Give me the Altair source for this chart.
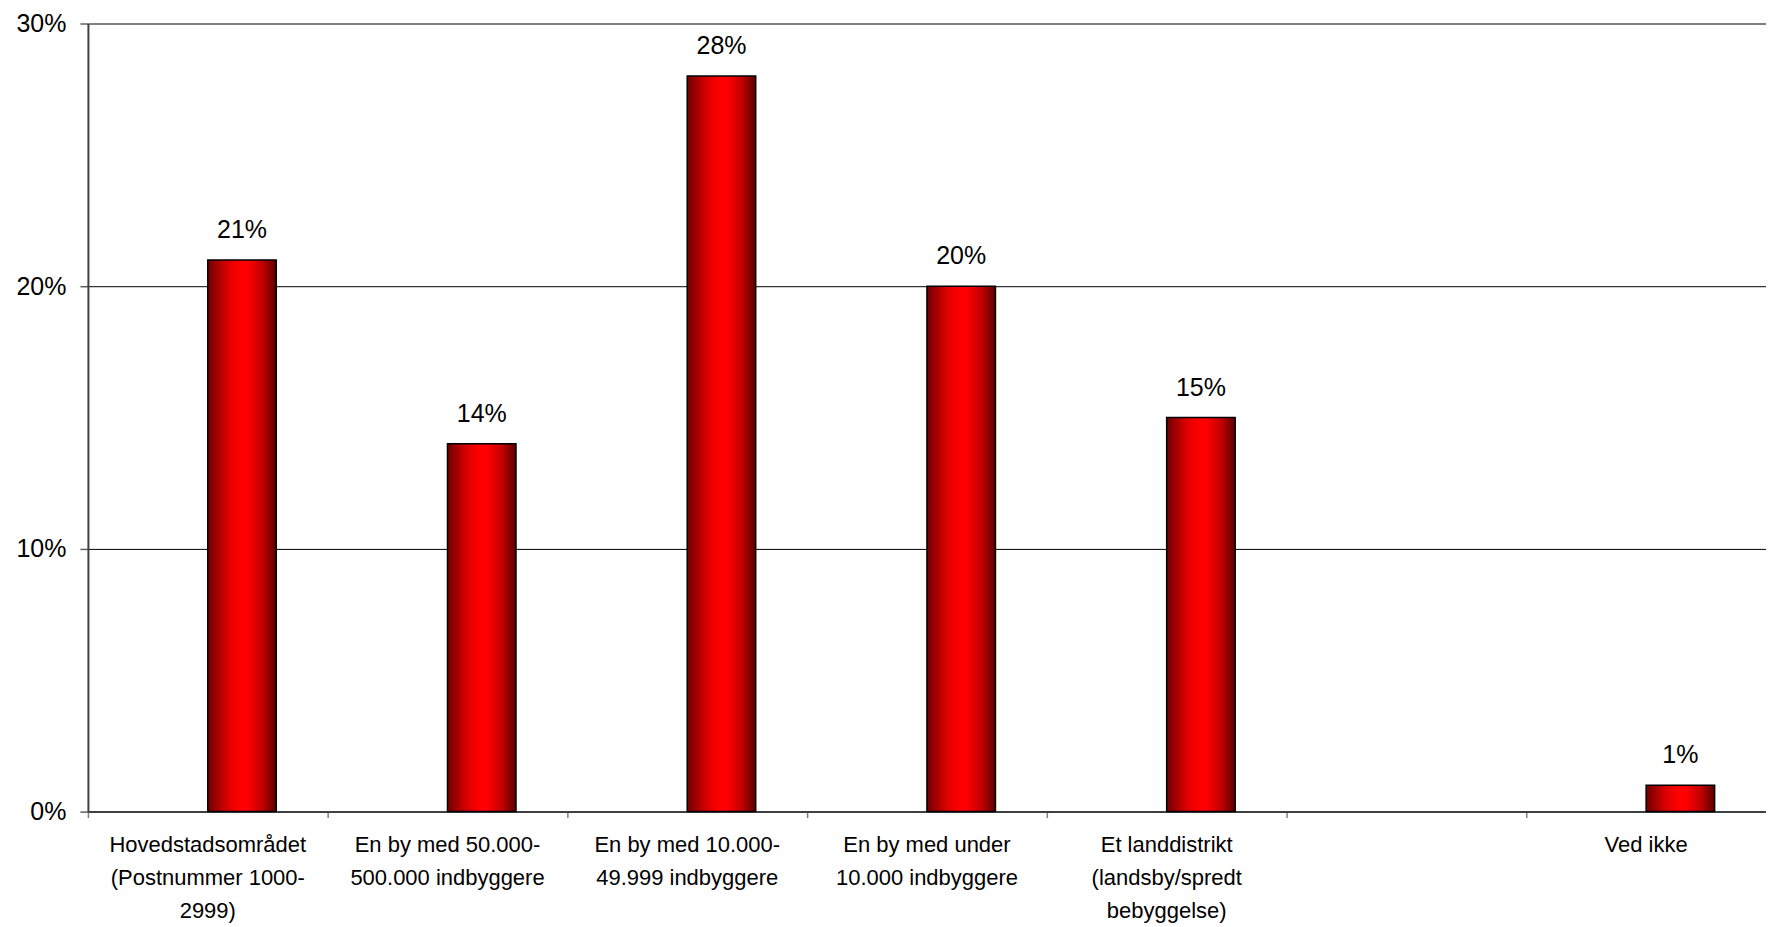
import altair as alt
import pandas as pd

categories = [
    "Hovedstadsområdet\n(Postnummer 1000-\n2999)",
    "En by med 50.000-\n500.000 indbyggere",
    "En by med 10.000-\n49.999 indbyggere",
    "En by med under\n10.000 indbyggere",
    "Et landdistrikt\n(landsby/spredt\nbebyggelse)",
    " ",
    "Ved ikke",
]
values = [0.21, 0.14, 0.28, 0.20, 0.15, None, 0.01]
y_ticks = [0.0, 0.1, 0.2, 0.3]

df = pd.DataFrame({"category": categories, "value": values}).dropna()

FONT = "Liberation Sans"
PLOT_W = 1680
PLOT_H = 789
BAND = PLOT_W / len(categories)
BAR_W = BAND / 3.5

grad = alt.LinearGradient(
    gradient="linear",
    stops=[
        alt.GradientStop(color="#700000", offset=0),
        alt.GradientStop(color="#e00000", offset=0.3),
        alt.GradientStop(color="#ff0000", offset=0.48),
        alt.GradientStop(color="#ff0000", offset=0.58),
        alt.GradientStop(color="#c00000", offset=0.8),
        alt.GradientStop(color="#580000", offset=1),
    ],
    x1=0, x2=1, y1=0, y2=0,
)

x_enc = alt.X(
    "category:N",
    sort=categories,
    scale=alt.Scale(domain=categories, paddingInner=0, paddingOuter=0),
    axis=alt.Axis(
        title=None,
        orient="bottom",
        bandPosition=0,
        labelAngle=0,
        labelExpr="split(datum.label, '\\n')",
        labelFont=FONT,
        labelFontSize=22,
        labelLineHeight=33,
        labelColor="black",
        labelPadding=17,
        labelLimit=400,
        labelOverlap=False,
        labelAlign="center",
        labelBaseline="top",
        domainColor="#404040",
        domainWidth=2,
        tickColor="#808080",
        tickSize=6,
        tickWidth=1.5,
        grid=False,
    ),
)

y_enc = alt.Y(
    "value:Q",
    scale=alt.Scale(domain=[0, 0.3], nice=False),
    axis=alt.Axis(
        title=None,
        values=y_ticks,
        format=".0%",
        labelFont=FONT,
        labelFontSize=25,
        labelColor="black",
        labelPadding=14,
        domainColor="#404040",
        domainWidth=2,
        tickColor="#606060",
        tickSize=8,
        tickWidth=1.5,
        grid=True,
        gridColor="black",
        gridWidth=1,
        gridOpacity=1,
    ),
)

bars = alt.Chart(df).mark_bar(
    width=BAR_W,
    xOffset=BAR_W / 2,
    color=grad,
    stroke="black",
    strokeWidth=1.5,
).encode(x=x_enc, y=y_enc)

labels = alt.Chart(df).mark_text(
    xOffset=BAR_W / 2,
    dy=-22,
    baseline="alphabetic",
    align="center",
    font=FONT,
    fontSize=25,
    color="black",
).encode(
    x=alt.X("category:N", sort=categories),
    y=alt.Y("value:Q"),
    text=alt.Text("value:Q", format=".0%"),
)

chart = (
    alt.layer(bars, labels)
    .properties(
        width=PLOT_W,
        height=PLOT_H,
        autosize=alt.AutoSizeParams(type="none"),
        padding={"left": 80, "top": 15, "right": 0, "bottom": 112},
        background="white",
    )
    .configure_view(strokeWidth=0)
)

chart.save("out.html", embed_options={"renderer": "svg", "actions": False})
